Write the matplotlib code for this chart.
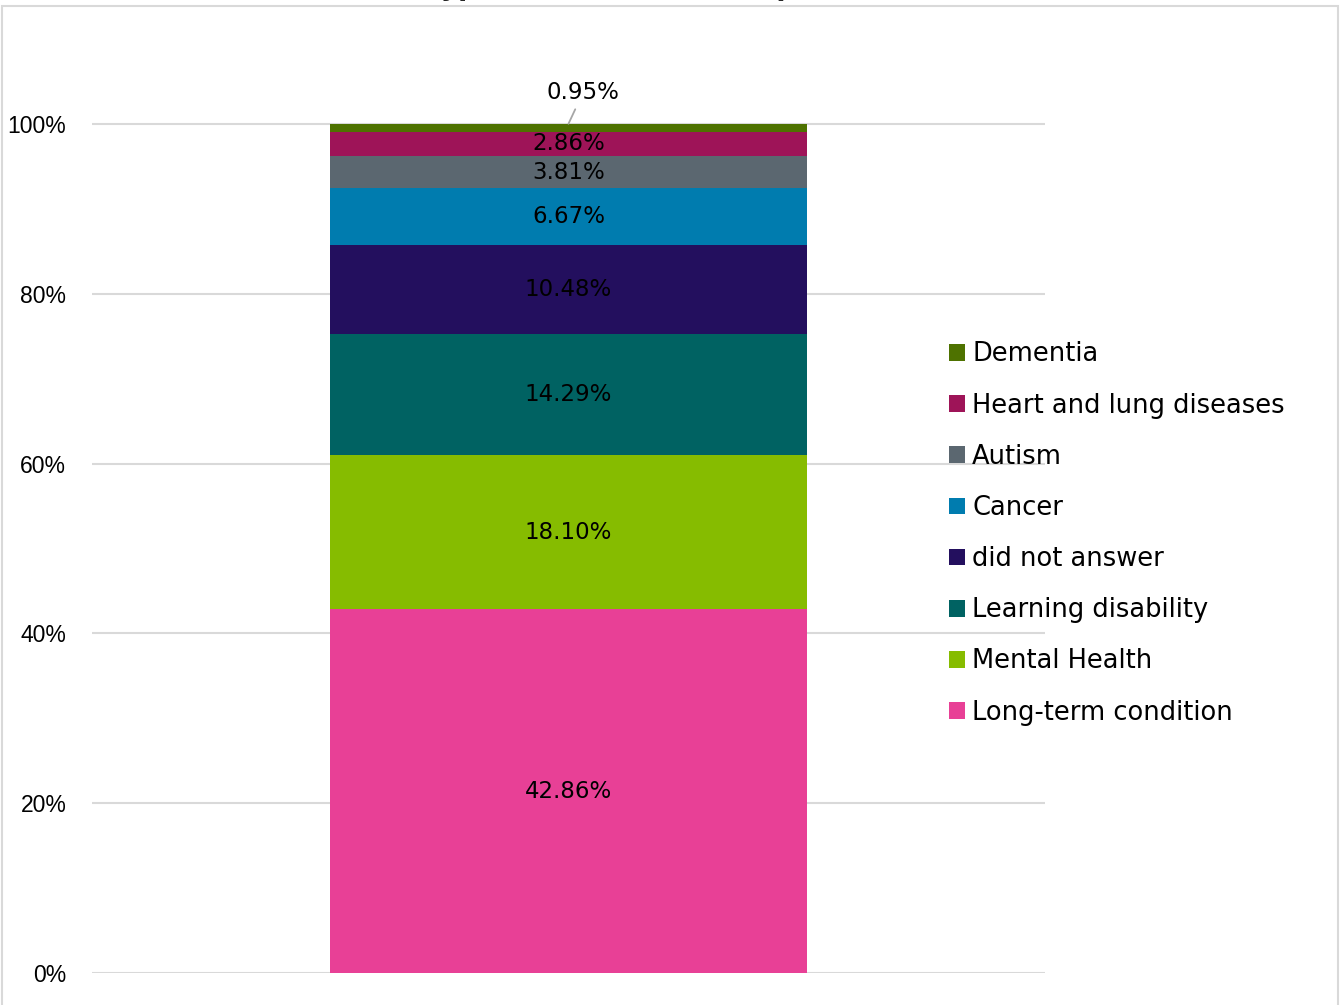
import matplotlib
matplotlib.use("Agg")
import matplotlib.pyplot as plt
from matplotlib.patches import Rectangle

# Share of respondents by type of condition (single stacked column)
categories = ["Long-term condition", "Mental Health", "Learning disability",
              "did not answer", "Cancer", "Autism",
              "Heart and lung diseases", "Dementia"]
values = [42.86, 18.10, 14.29, 10.48, 6.67, 3.81, 2.86, 0.95]
colors = ["#E84096", "#86BC00", "#006262", "#230F5E",
          "#007CAF", "#5B6770", "#9E1458", "#4E7200"]
yticks = [0, 20, 40, 60, 80, 100]
ytick_labels = ["0%", "20%", "40%", "60%", "80%", "100%"]
title = "Type of condition of respondents"

fig = plt.figure(figsize=(13.41, 10.05), dpi=100)
ax = fig.add_axes([92 / 1341, 32 / 1005, 953 / 1341, 934 / 1005])

label_font = "DejaVu Sans"
bottom = 0.0
handles = []
for cat, val, col in zip(categories, values, colors):
    bar = ax.bar(0, val, width=0.5, bottom=bottom, color=col, label=cat,
                 zorder=3, linewidth=0)
    handles.append(bar)
    if cat != "Dementia":
        ax.text(0, bottom + val / 2, f"{val:.2f}%", ha="center", va="center",
                fontsize=16.5, color="black", family=label_font, zorder=4)
    else:
        ax.annotate(f"{val:.2f}%", xy=(0, bottom + val), xytext=(10.5, 22.5),
                    textcoords="offset points", ha="center", va="center",
                    fontsize=16.5, color="black", family=label_font, zorder=4,
                    arrowprops=dict(arrowstyle="-", color="#A6A6A6", lw=1.3,
                                    shrinkA=2, shrinkB=0))
    bottom += val

ax.set_xlim(-0.5, 0.5)
ax.set_ylim(0, 110)
ax.set_yticks(yticks)
ax.set_yticklabels(ytick_labels, family="Liberation Sans", fontsize=16.5)
ax.set_xticks([])
ax.tick_params(axis="y", length=0, pad=18.5)
ax.yaxis.grid(True, color="#D9D9D9", linewidth=1.5, zorder=0)
ax.set_axisbelow(True)
for s in ax.spines.values():
    s.set_visible(False)

leg = fig.legend(handles[::-1], categories[::-1], loc="center left",
                 bbox_to_anchor=(949 / 1341, 471.5 / 1005), frameon=False,
                 prop=dict(family=label_font, size=18.5), borderpad=0,
                 borderaxespad=0, handlelength=0.62, handleheight=0.62,
                 handletextpad=0.28, labelspacing=0.98)

# Chart frame and title sitting above the visible area
fig.patches.append(Rectangle((2 / 1341, -0.02), 1336 / 1341, 1.02 - 6 / 1005,
                             transform=fig.transFigure, fill=False,
                             edgecolor="#D9D9D9", linewidth=1.5))
fig.text(0.5, 1.0 + 5 / 1005, title, ha="center", va="baseline",
         fontsize=19, fontweight="bold", family=label_font, color="#262626")

fig.savefig("out.png", dpi=100)
